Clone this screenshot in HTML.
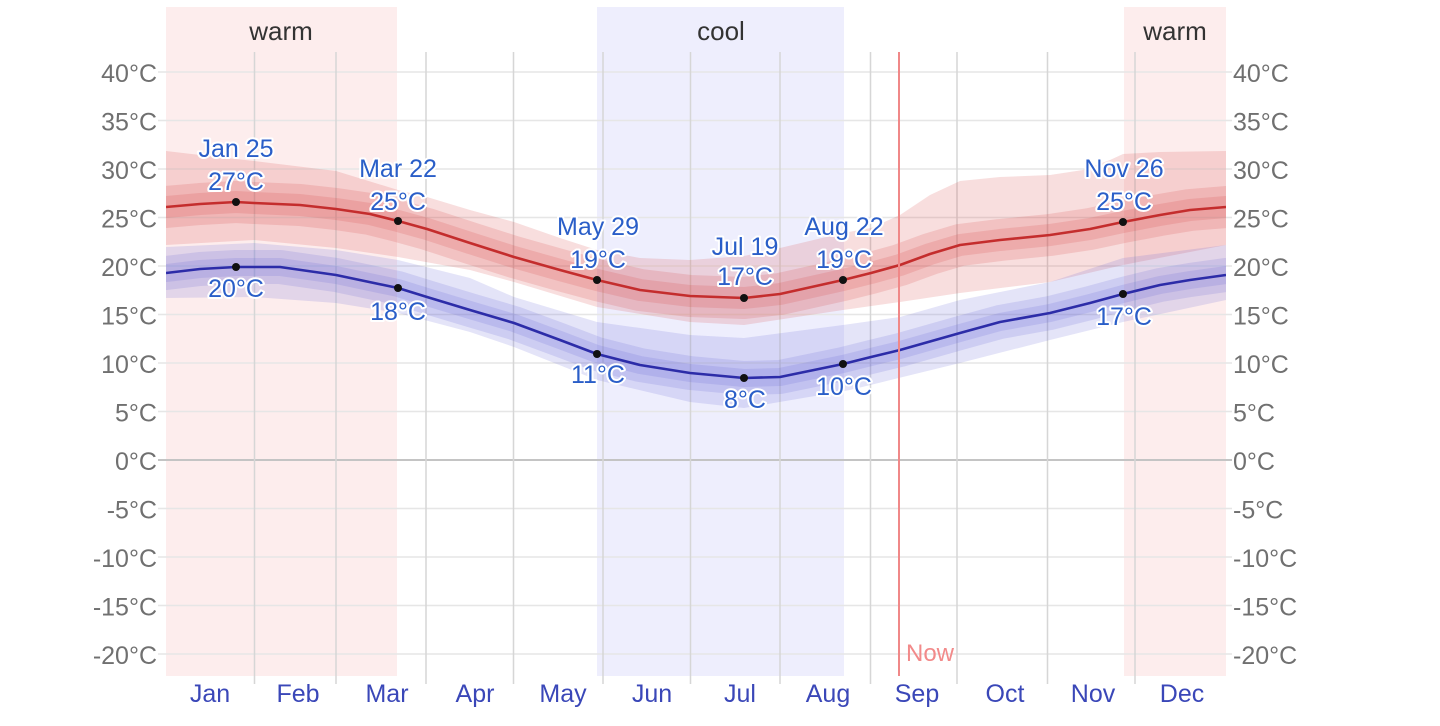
<!DOCTYPE html>
<html>
<head>
<meta charset="utf-8">
<style>
  html,body{margin:0;padding:0;background:#fff;}
  svg{display:block;}
  text{font-family:"Liberation Sans", sans-serif;}
  .tick{font-size:25px;fill:#707070;}
  .mon{font-size:25px;fill:#3a47b8;text-anchor:middle;}
  .ann{font-size:25px;fill:#2a5ec8;text-anchor:middle;stroke:#fff;stroke-width:4px;paint-order:stroke;stroke-linejoin:round;}
  .seas{font-size:26px;fill:#333;text-anchor:middle;}
</style>
</head>
<body>
<svg width="1440" height="726" viewBox="0 0 1440 726" xmlns="http://www.w3.org/2000/svg">
  <defs>
    <clipPath id="plot"><rect x="166" y="7" width="1060" height="669"/></clipPath>
  </defs>

  <!-- season backgrounds -->
  <rect x="166" y="7" width="231" height="669" fill="#fdeded"/>
  <rect x="597" y="7" width="247" height="669" fill="#eeeefd"/>
  <rect x="1124" y="7" width="102" height="669" fill="#fdeded"/>

  <!-- horizontal gridlines -->
  <g stroke="#e6e6e6" stroke-width="1.5">
    <line x1="158" y1="72" x2="1232" y2="72"/>
    <line x1="158" y1="120.5" x2="1232" y2="120.5"/>
    <line x1="158" y1="169" x2="1232" y2="169"/>
    <line x1="158" y1="217.5" x2="1232" y2="217.5"/>
    <line x1="158" y1="266" x2="1232" y2="266"/>
    <line x1="158" y1="314.5" x2="1232" y2="314.5"/>
    <line x1="158" y1="363" x2="1232" y2="363"/>
    <line x1="158" y1="411.5" x2="1232" y2="411.5"/>
    <line x1="158" y1="508.5" x2="1232" y2="508.5"/>
    <line x1="158" y1="557" x2="1232" y2="557"/>
    <line x1="158" y1="605.5" x2="1232" y2="605.5"/>
    <line x1="158" y1="654" x2="1232" y2="654"/>
  </g>
  <line x1="158" y1="460" x2="1232" y2="460" stroke="#c4c4c4" stroke-width="2"/>

  <!-- vertical gridlines -->
  <g stroke="#d6d6d6" stroke-width="1.5">
    <line x1="254.5" y1="52" x2="254.5" y2="684"/>
    <line x1="336" y1="52" x2="336" y2="684"/>
    <line x1="426" y1="52" x2="426" y2="684"/>
    <line x1="513.5" y1="52" x2="513.5" y2="684"/>
    <line x1="603" y1="52" x2="603" y2="684"/>
    <line x1="690.5" y1="52" x2="690.5" y2="684"/>
    <line x1="780" y1="52" x2="780" y2="684"/>
    <line x1="870.5" y1="52" x2="870.5" y2="684"/>
    <line x1="957" y1="52" x2="957" y2="684"/>
    <line x1="1047.5" y1="52" x2="1047.5" y2="684"/>
    <line x1="1135" y1="52" x2="1135" y2="684"/>
  </g>

  <g clip-path="url(#plot)">
    <!-- red outer band -->
    <polygon fill="rgba(215,60,60,0.17)" points="
      166,151 200,155 254,161 336,171 398,190 427,197 470,210 514,222 560,238 597,250 640,258 690,260 744,256 780,248 843,233 871,228 900,215 930,195 960,181 1000,177 1050,175 1083,170 1110,160 1123,154 1160,152 1226,151
      1226,245 1123,265 1050,282 960,293 900,302 843,310 744,325 690,322 597,307 514,282 470,270 398,257 336,248 254,240 166,245"/>
    <!-- blue outer band -->
    <polygon fill="rgba(95,95,215,0.17)" points="
      166,247 254,243 336,250 398,260 470,278 514,297 597,322 690,335 744,338 843,325 900,317 960,300 1050,282 1123,258 1226,245
      1226,300 1123,322 1050,340 960,363 850,390 744,408 690,402 597,380 514,347 470,332 398,313 336,303 254,297 166,298"/>

    <!-- red mid & inner bands -->
    <polyline fill="none" stroke="rgba(215,60,60,0.17)" stroke-width="42" stroke-linejoin="round"
      points="150,208 166,207 200,204 236,202 254,203 300,205 336,209 370,214 398,221 427,229 470,243 514,257 560,270 597,280 640,290 690,296 744,298 780,294 843,280 871,273 900,265 930,254 960,245 1000,240 1050,235 1090,229 1123,222 1160,215 1190,210 1226,207 1240,207"/>
    <polyline fill="none" stroke="rgba(215,60,60,0.17)" stroke-width="22" stroke-linejoin="round"
      points="150,208 166,207 200,204 236,202 254,203 300,205 336,209 370,214 398,221 427,229 470,243 514,257 560,270 597,280 640,290 690,296 744,298 780,294 843,280 871,273 900,265 930,254 960,245 1000,240 1050,235 1090,229 1123,222 1160,215 1190,210 1226,207 1240,207"/>

    <!-- blue mid & inner bands -->
    <polyline fill="none" stroke="rgba(95,95,215,0.17)" stroke-width="34" stroke-linejoin="round"
      points="150,274 166,273 200,269 236,267 280,267 336,275 398,288 427,297 470,310 514,323 560,340 597,354 640,365 690,373 744,378 780,377 843,364 871,357 900,350 960,333 1000,322 1050,313 1090,303 1123,294 1160,285 1190,280 1226,275 1240,274"/>
    <polyline fill="none" stroke="rgba(95,95,215,0.17)" stroke-width="18" stroke-linejoin="round"
      points="150,274 166,273 200,269 236,267 280,267 336,275 398,288 427,297 470,310 514,323 560,340 597,354 640,365 690,373 744,378 780,377 843,364 871,357 900,350 960,333 1000,322 1050,313 1090,303 1123,294 1160,285 1190,280 1226,275 1240,274"/>

    <!-- mean lines -->
    <polyline fill="none" stroke="#c42d2d" stroke-width="2.6" stroke-linejoin="round"
      points="166,207 200,204 236,202 254,203 300,205 336,209 370,214 398,221 427,229 470,243 514,257 560,270 597,280 640,290 690,296 744,298 780,294 843,280 871,273 900,265 930,254 960,245 1000,240 1050,235 1090,229 1123,222 1160,215 1190,210 1226,207"/>
    <polyline fill="none" stroke="#2c2ca8" stroke-width="2.6" stroke-linejoin="round"
      points="166,273 200,269 236,267 280,267 336,275 398,288 427,297 470,310 514,323 560,340 597,354 640,365 690,373 744,378 780,377 843,364 871,357 900,350 960,333 1000,322 1050,313 1090,303 1123,294 1160,285 1190,280 1226,275"/>
  </g>

  <!-- Now line -->
  <line x1="899" y1="52" x2="899" y2="676" stroke="#f08888" stroke-width="2"/>
  <text x="906" y="661" style="font-size:24px;fill:#f28a8a;">Now</text>

  <!-- dots -->
  <g fill="#111">
    <circle cx="236" cy="202" r="4"/><circle cx="236" cy="267" r="4"/>
    <circle cx="398" cy="221" r="4"/><circle cx="398" cy="288" r="4"/>
    <circle cx="597" cy="280" r="4"/><circle cx="597" cy="354" r="4"/>
    <circle cx="744" cy="298" r="4"/><circle cx="744" cy="378" r="4"/>
    <circle cx="843" cy="280" r="4"/><circle cx="843" cy="364" r="4"/>
    <circle cx="1123" cy="222" r="4"/><circle cx="1123" cy="294" r="4"/>
  </g>

  <!-- annotations -->
  <text class="ann" x="236" y="157">Jan 25</text>
  <text class="ann" x="236" y="190">27°C</text>
  <text class="ann" x="236" y="297">20°C</text>
  <text class="ann" x="398" y="177">Mar 22</text>
  <text class="ann" x="398" y="210">25°C</text>
  <text class="ann" x="398" y="320">18°C</text>
  <text class="ann" x="598" y="235">May 29</text>
  <text class="ann" x="598" y="268">19°C</text>
  <text class="ann" x="598" y="383">11°C</text>
  <text class="ann" x="745" y="255">Jul 19</text>
  <text class="ann" x="745" y="285">17°C</text>
  <text class="ann" x="745" y="408">8°C</text>
  <text class="ann" x="844" y="235">Aug 22</text>
  <text class="ann" x="844" y="268">19°C</text>
  <text class="ann" x="844" y="395">10°C</text>
  <text class="ann" x="1124" y="177">Nov 26</text>
  <text class="ann" x="1124" y="210">25°C</text>
  <text class="ann" x="1124" y="325">17°C</text>

  <!-- season labels -->
  <text class="seas" x="281" y="40">warm</text>
  <text class="seas" x="721" y="40">cool</text>
  <text class="seas" x="1175" y="40">warm</text>

  <!-- left y ticks -->
  <g class="tick" text-anchor="end">
    <text x="157" y="82">40°C</text>
    <text x="157" y="130.5">35°C</text>
    <text x="157" y="179">30°C</text>
    <text x="157" y="227.5">25°C</text>
    <text x="157" y="276">20°C</text>
    <text x="157" y="324.5">15°C</text>
    <text x="157" y="373">10°C</text>
    <text x="157" y="421.5">5°C</text>
    <text x="157" y="470">0°C</text>
    <text x="157" y="518.5">-5°C</text>
    <text x="157" y="567">-10°C</text>
    <text x="157" y="615.5">-15°C</text>
    <text x="157" y="664">-20°C</text>
  </g>
  <!-- right y ticks -->
  <g class="tick" text-anchor="start">
    <text x="1233" y="82">40°C</text>
    <text x="1233" y="130.5">35°C</text>
    <text x="1233" y="179">30°C</text>
    <text x="1233" y="227.5">25°C</text>
    <text x="1233" y="276">20°C</text>
    <text x="1233" y="324.5">15°C</text>
    <text x="1233" y="373">10°C</text>
    <text x="1233" y="421.5">5°C</text>
    <text x="1233" y="470">0°C</text>
    <text x="1233" y="518.5">-5°C</text>
    <text x="1233" y="567">-10°C</text>
    <text x="1233" y="615.5">-15°C</text>
    <text x="1233" y="664">-20°C</text>
  </g>

  <!-- month labels -->
  <g class="mon">
    <text x="210" y="702">Jan</text>
    <text x="298" y="702">Feb</text>
    <text x="387" y="702">Mar</text>
    <text x="475" y="702">Apr</text>
    <text x="563" y="702">May</text>
    <text x="652" y="702">Jun</text>
    <text x="740" y="702">Jul</text>
    <text x="828" y="702">Aug</text>
    <text x="917" y="702">Sep</text>
    <text x="1005" y="702">Oct</text>
    <text x="1093" y="702">Nov</text>
    <text x="1182" y="702">Dec</text>
  </g>
</svg>
</body>
</html>
